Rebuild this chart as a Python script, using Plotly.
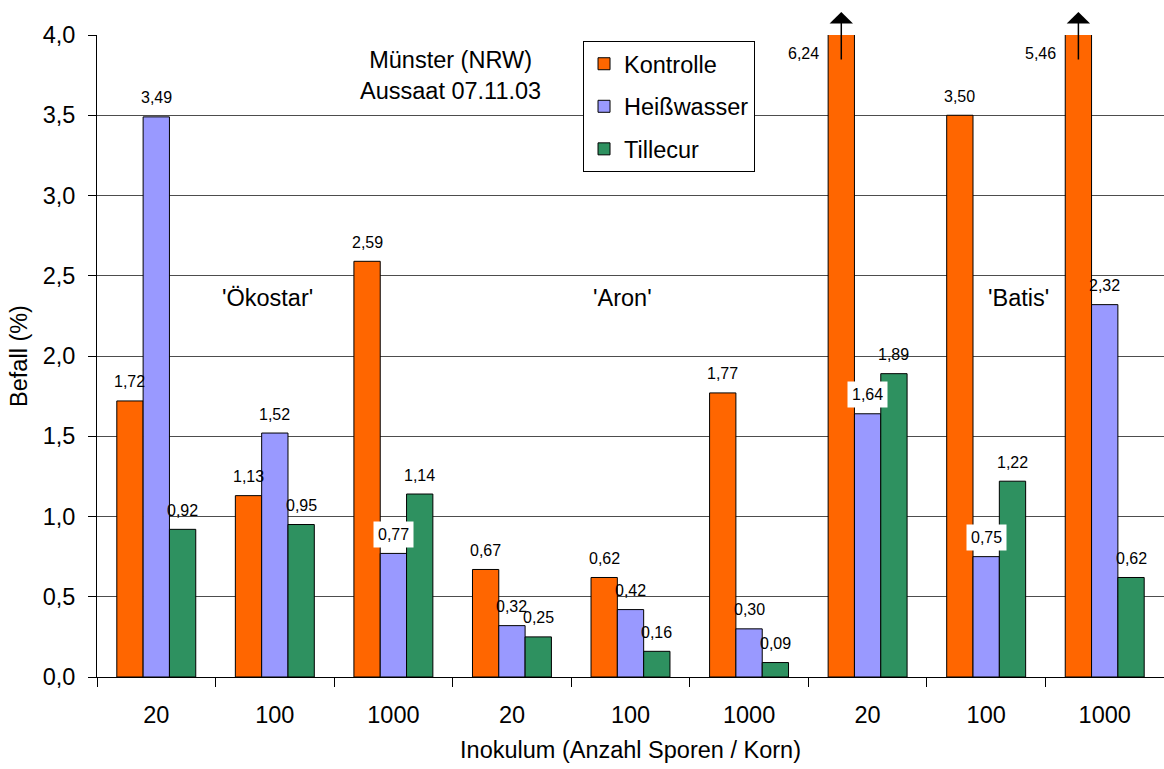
import plotly.graph_objects as go

# Inoculum levels per cultivar (x-axis categories)
inoculum = ["20", "100", "1000", "20", "100", "1000", "20", "100", "1000"]
cultivars = ["'Ökostar'", "'Aron'", "'Batis'"]

# Infestation (%) per treatment
series_names = ["Kontrolle", "Heißwasser", "Tillecur"]
kontrolle = [1.72, 1.13, 2.59, 0.67, 0.62, 1.77, 6.24, 3.50, 5.46]
heisswasser = [3.49, 1.52, 0.77, 0.32, 0.42, 0.30, 1.64, 0.75, 2.32]
tillecur = [0.92, 0.95, 1.14, 0.25, 0.16, 0.09, 1.89, 1.22, 0.62]

# Labels drawn on a white box where they sit over a neighbouring bar
boxed_labels = {(1, 2), (1, 6), (1, 7)}

colors = ["#FF6600", "#9999FF", "#2E9160"]
YMAX = 4.0
BAR_W = 0.222
offsets = [-BAR_W, 0.0, BAR_W]
FONT = "Arial, Liberation Sans, sans-serif"
FS = 23.5

fig = go.Figure()
annotations = []

for s, (name, vals) in enumerate(zip(series_names, [kontrolle, heisswasser, tillecur])):
    xs = [i + offsets[s] for i in range(len(vals))]
    fig.add_trace(go.Bar(
        x=xs, y=vals, width=BAR_W, name=name, legendgroup=name,
        marker=dict(color=colors[s], line=dict(color="black", width=1)),
        hoverinfo="y",
    ))
    for i, (x, v) in enumerate(zip(xs, vals)):
        txt = f"{v:.2f}".replace(".", ",")
        if v > YMAX:
            # value beyond the axis: label to the left of the bar top, plus an up arrow
            annotations.append(dict(x=x, y=YMAX, xref="x", yref="y", text=txt,
                                    showarrow=False, xshift=-38, yshift=-18,
                                    font=dict(family=FONT, size=16, color="black")))
            annotations.append(dict(x=x, y=1.036, xref="x", yref="paper", text="",
                                    showarrow=True, ax=0, ay=49, axref="pixel", ayref="pixel",
                                    arrowhead=1, arrowsize=2.6, arrowwidth=1.5,
                                    arrowcolor="black"))
        else:
            boxed = (s, i) in boxed_labels
            annotations.append(dict(x=x, y=v, xref="x", yref="y", text=txt,
                                    showarrow=False, yshift=19, yanchor="middle",
                                    bgcolor="white" if boxed else None,
                                    borderpad=4 if boxed else 1,
                                    font=dict(family=FONT, size=16, color="black")))

# Cultivar names above each block of three inoculum levels
for name, xpos in zip(cultivars, [0.94, 3.93, 7.27]):
    annotations.append(dict(x=xpos, y=2.36, xref="x", yref="y", text=name,
                            showarrow=False, font=dict(family=FONT, size=FS, color="black")))

annotations.append(dict(x=2.48, y=3.75, xref="x", yref="y",
                        text="Münster (NRW)<br>Aussaat 07.11.03", showarrow=False,
                        font=dict(family=FONT, size=FS, color="black")))

fig.update_layout(
    width=1164, height=769,
    margin=dict(l=97, r=0, t=35, b=92),
    paper_bgcolor="white", plot_bgcolor="white",
    barmode="overlay", separators=",.",
    font=dict(family=FONT, size=FS, color="black"),
    annotations=annotations,
    legend=dict(x=0.4555, y=0.9907, xanchor="left", yanchor="top",
                bgcolor="white", bordercolor="black", borderwidth=1,
                font=dict(family=FONT, size=FS, color="black"),
                tracegroupgap=9, traceorder="grouped"),
    xaxis=dict(
        range=[-0.5, 8.5], tickmode="array",
        tickvals=list(range(len(inoculum))), ticktext=inoculum,
        ticks="", ticklabelstandoff=17, showgrid=False, zeroline=False,
        showline=True, linecolor="black", linewidth=1,
        tickfont=dict(family=FONT, size=FS, color="black"),
        minor=dict(tickmode="array", tickvals=[i - 0.5 for i in range(len(inoculum) + 1)],
                   ticks="outside", ticklen=9, tickcolor="black", tickwidth=1, showgrid=False),
        title=dict(text="Inokulum (Anzahl Sporen / Korn)", standoff=14,
                   font=dict(family=FONT, size=FS, color="black")),
    ),
    yaxis=dict(
        range=[0, YMAX], dtick=0.5, tickformat=".1f",
        ticks="outside", ticklen=8, tickcolor="black", ticklabelstandoff=8,
        showgrid=True, gridcolor="#4d4d4d", gridwidth=1.2, zeroline=False,
        showline=True, linecolor="black", linewidth=1,
        tickfont=dict(family=FONT, size=FS, color="black"),
        title=dict(text="Befall (%)", standoff=8,
                   font=dict(family=FONT, size=FS, color="black")),
    ),
)

fig.write_html("out.html")
